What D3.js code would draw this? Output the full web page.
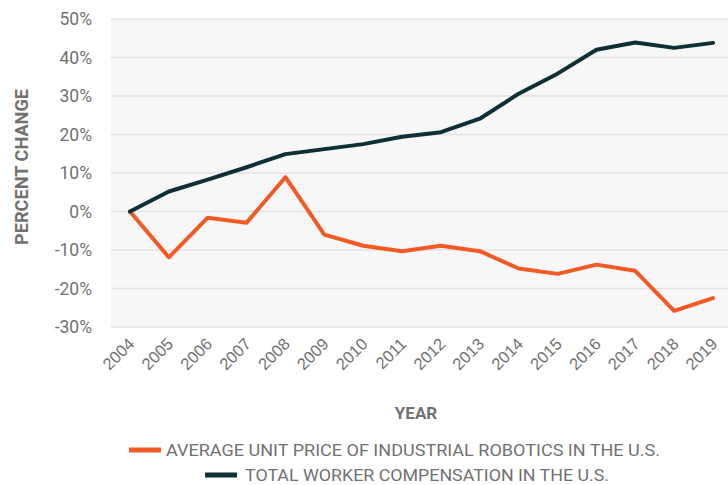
<!DOCTYPE html>
<html><head><meta charset="utf-8">
<script src="https://cdn.jsdelivr.net/npm/d3@7"></script>
<style>html,body{margin:0;padding:0;background:#fff;}svg{display:block;font-family:Roboto,"Open Sans",sans-serif;}</style>
</head><body>
<svg id="c" width="728" height="485"></svg>
<script>
const years = [2004,2005,2006,2007,2008,2009,2010,2011,2012,2013,2014,2015,2016,2017,2018,2019];
const robotPrice = [0,-11.9,-1.6,-2.9,8.9,-6.0,-8.9,-10.3,-8.9,-10.3,-14.8,-16.2,-13.8,-15.4,-25.8,-22.5];
const workerComp = [0,5.2,8.3,11.5,14.9,16.2,17.5,19.4,20.6,24.1,30.6,35.8,42.0,43.9,42.5,43.8];
const yTicks = [-30,-20,-10,0,10,20,30,40,50];
const seriesNames = ["AVERAGE UNIT PRICE OF INDUSTRIAL ROBOTICS IN THE U.S.","TOTAL WORKER COMPENSATION IN THE U.S."];
const colors = ["#f15a24","#0d2f35"];
const textColor = "#717171";

const svg = d3.select("#c");
const plotL = 111, plotR = 728, plotT = 19, plotB = 327;
const x = d3.scalePoint().domain(years).range([130, 713]);
const y = d3.scaleLinear().domain([-30,50]).range([plotB, plotT]);

svg.append("rect").attr("x", plotL).attr("y", plotT).attr("width", plotR-plotL).attr("height", plotB-plotT).attr("fill", "#f7f7f7");

// gridlines
svg.append("g").selectAll("line").data(yTicks).join("line")
  .attr("x1", plotL).attr("x2", plotR)
  .attr("y1", d => y(d)).attr("y2", d => y(d))
  .attr("stroke", "#e3e3e3").attr("stroke-width", 1.5);

// y axis
const yAxis = svg.append("g").attr("transform", `translate(${plotL},0)`)
  .call(d3.axisLeft(y).tickValues(yTicks).tickFormat(d => d + "%").tickSize(0).tickPadding(19));
yAxis.select(".domain").remove();
yAxis.selectAll("text").attr("fill", textColor).style("font-size", "17.5px").style("font-family", "Roboto");

// x axis
const xAxis = svg.append("g").attr("transform", `translate(0,${plotB})`)
  .call(d3.axisBottom(x).tickSize(0).tickPadding(0));
xAxis.select(".domain").remove();
xAxis.selectAll("text")
  .attr("fill", textColor).style("font-size", "16.5px")
  .attr("text-anchor", "end")
  .attr("dy", null).attr("y", 0)
  .attr("transform", "translate(5,18) rotate(-45)");

// lines
const line = d3.line().x((d,i) => x(years[i])).y(d => y(d));
[robotPrice, workerComp].forEach((s, k) => {
  svg.append("path").datum(s).attr("d", line)
    .attr("fill", "none").attr("stroke", colors[k]).attr("stroke-width", 4)
    .attr("stroke-linejoin", "round").attr("stroke-linecap", "round");
});

// axis titles
svg.append("text").attr("transform", "translate(28,167) rotate(-90)")
  .attr("text-anchor", "middle").attr("fill", textColor)
  .style("font-size", "18.5px").style("font-weight", "bold")
  .attr("textLength", 156).attr("lengthAdjust", "spacingAndGlyphs").text("PERCENT CHANGE");
svg.append("text").attr("x", 416).attr("y", 419)
  .attr("text-anchor", "middle").attr("fill", textColor)
  .style("font-size", "17px").style("font-weight", "bold").text("YEAR");

// legend
const leg = [{x:129, y:450, tx:166, tw:494},{x:205, y:475, tx:245, tw:364}];
leg.forEach((l, k) => {
  svg.append("line").attr("x1", l.x).attr("x2", l.x+32).attr("y1", l.y).attr("y2", l.y)
    .attr("stroke", colors[k]).attr("stroke-width", 5);
  svg.append("text").attr("x", l.tx).attr("y", l.y+6).attr("fill", textColor)
    .style("font-size", "17px").attr("textLength", l.tw).attr("lengthAdjust", "spacingAndGlyphs")
    .text(seriesNames[k]);
});
</script>
</body></html>
